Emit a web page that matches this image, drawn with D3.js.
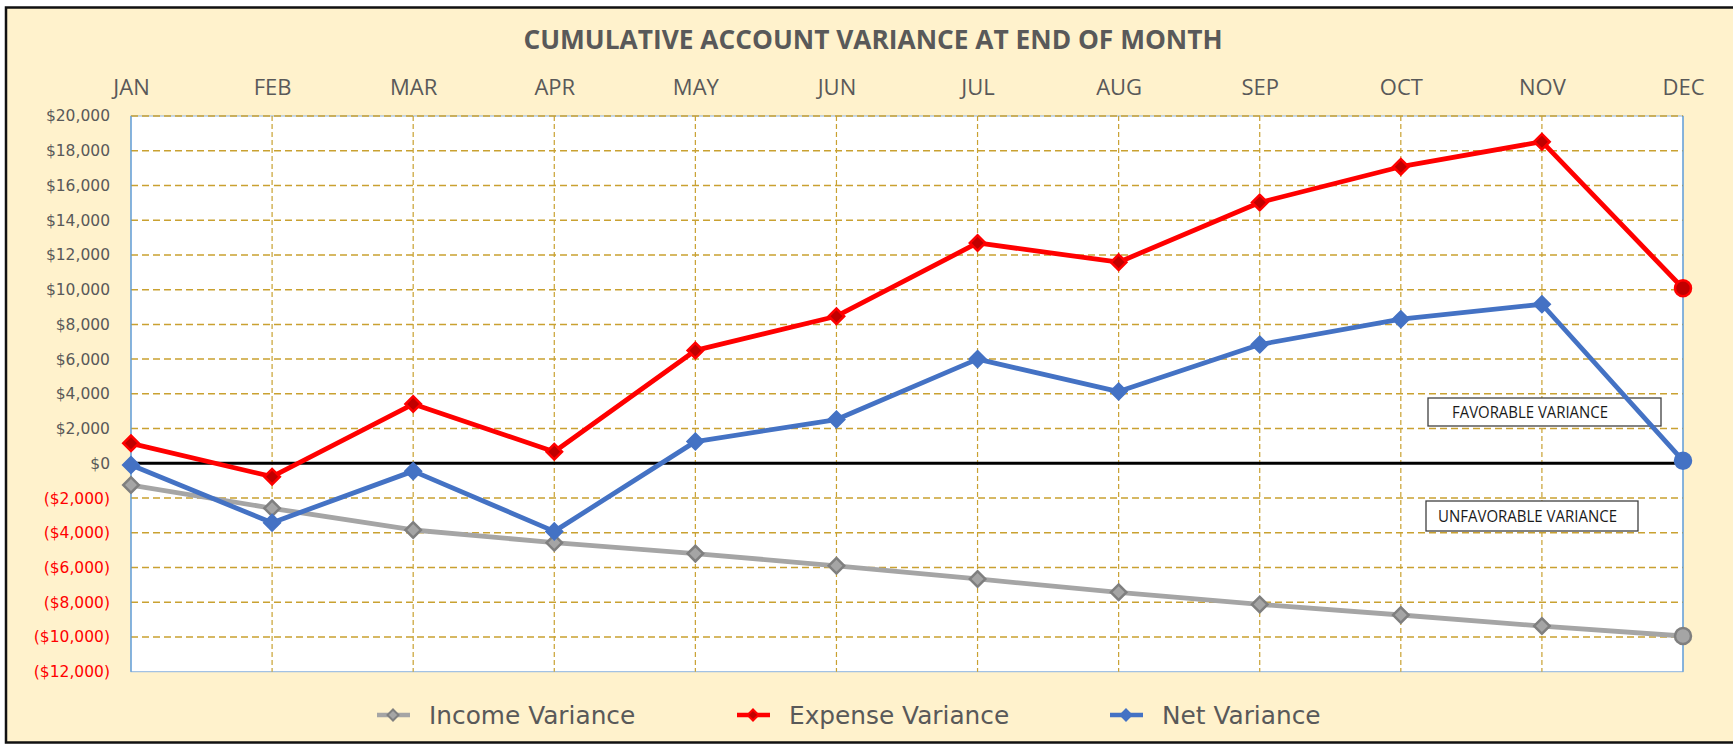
<!DOCTYPE html>
<html>
<head>
<meta charset="utf-8">
<script src="https://cdn.jsdelivr.net/npm/d3@7"></script>
<style>
  body { margin: 0; background: #ffffff; }
  svg { display: block; }
</style>
</head>
<body>
<script>
'use strict';

// data
const months = ["JAN", "FEB", "MAR", "APR", "MAY", "JUN", "JUL", "AUG", "SEP", "OCT", "NOV", "DEC"];
const incomeVariance = [-1250, -2590, -3840, -4570, -5200, -5900, -6660, -7430, -8125, -8735, -9370, -9945];
const expenseVariance = [1150, -770, 3415, 670, 6500, 8470, 12690, 11580, 15020, 17080, 18520, 10080];
const netVariance = [-100, -3420, -450, -3920, 1250, 2520, 6000, 4130, 6840, 8300, 9160, 150];
const yTicks = d3.range(-12000, 20001, 2000);

const width = 1733, height = 744;
const plotLeft = 131, plotRight = 1683, plotTop = 116, plotBottom = 671.7;

let svg = d3.select("body").append("svg")
    .attr("width", width)
    .attr("height", height);

// outer panel
svg.append("rect")
    .attr("x", 6).attr("y", 7.5)
    .attr("width", width).attr("height", 735)
    .attr("fill", "#FFF2CC")
    .attr("stroke", "#111")
    .attr("stroke-width", 2.5);

// title
svg.append("text")
    .attr("x", 873).attr("y", 49)
    .attr("text-anchor", "middle")
    .style("font-family", "Open Sans")
    .style("font-weight", "bold")
    .style("font-size", "26.3px")
    .style("fill", "#595959")
    .text("CUMULATIVE ACCOUNT VARIANCE AT END OF MONTH");

let x = d3.scalePoint().domain(months).range([plotLeft, plotRight]);
let y = d3.scaleLinear().domain([-12000, 20000]).range([plotBottom, plotTop]);

// plot area
svg.append("rect")
    .attr("x", plotLeft).attr("y", plotTop)
    .attr("width", plotRight - plotLeft).attr("height", plotBottom - plotTop)
    .attr("fill", "#ffffff")
    .attr("stroke", "#8DB4E2")
    .attr("stroke-width", 1);

let gridColor = "#C9A131";

// horizontal gridlines
svg.append("g").selectAll("line")
    .data(yTicks.filter(d => d !== 0 && d !== -12000))
    .enter().append("line")
    .attr("x1", plotLeft).attr("x2", plotRight)
    .attr("y1", d => y(d)).attr("y2", d => y(d))
    .attr("stroke", gridColor)
    .attr("stroke-width", 1.5)
    .attr("stroke-dasharray", "7,4");

// vertical gridlines
svg.append("g").selectAll("line")
    .data(months.slice(1, -1))
    .enter().append("line")
    .attr("x1", d => x(d)).attr("x2", d => x(d))
    .attr("y1", plotTop).attr("y2", plotBottom)
    .attr("stroke", gridColor)
    .attr("stroke-width", 1.2)
    .attr("stroke-dasharray", "5,3");

// side borders of the plot in blue
svg.append("g").selectAll("line")
    .data([plotLeft, plotRight])
    .enter().append("line")
    .attr("x1", d => d).attr("x2", d => d)
    .attr("y1", plotTop).attr("y2", plotBottom)
    .attr("stroke", "#5B9BD5")
    .attr("stroke-width", 1.2);

// y axis
let money = d3.format(",");
let yAxis = svg.append("g")
    .attr("transform", "translate(" + plotLeft + ",0)")
    .call(d3.axisLeft(y).tickValues(yTicks).tickSize(0).tickPadding(21)
        .tickFormat(d => d < 0 ? "($" + money(-d) + ")" : "$" + money(d)));
yAxis.select(".domain").remove();
yAxis.selectAll("text")
    .style("font-family", "DejaVu Sans")
    .style("font-size", "15.5px")
    .style("fill", d => d < 0 ? "#FF0000" : "#595959");

// month axis on top
let xAxis = svg.append("g")
    .attr("transform", "translate(0," + plotTop + ")")
    .call(d3.axisTop(x).tickSize(0).tickPadding(21));
xAxis.select(".domain").remove();
xAxis.selectAll("text")
    .style("font-family", "Open Sans")
    .style("font-size", "22px")
    .style("fill", "#595959");

// zero line
svg.append("line")
    .attr("x1", plotLeft).attr("x2", plotRight)
    .attr("y1", y(0)).attr("y2", y(0))
    .attr("stroke", "#000")
    .attr("stroke-width", 3);

// annotation boxes
let notes = [
    { label: "FAVORABLE VARIANCE", x: 1428, y: 398, w: 233, h: 28, tx: 1452, tl: 156 },
    { label: "UNFAVORABLE VARIANCE", x: 1426, y: 501, w: 212, h: 30, tx: 1438, tl: 179 }
];
let note = svg.append("g").selectAll("g")
    .data(notes)
    .enter().append("g");
note.append("rect")
    .attr("x", d => d.x).attr("y", d => d.y)
    .attr("width", d => d.w).attr("height", d => d.h)
    .attr("fill", "#ffffff")
    .attr("stroke", "#404040")
    .attr("stroke-width", 1.3);
note.append("text")
    .attr("x", d => d.tx)
    .attr("y", d => d.y + d.h / 2 + 5.5)
    .attr("textLength", d => d.tl)
    .attr("lengthAdjust", "spacingAndGlyphs")
    .style("font-family", "Open Sans")
    .style("font-size", "15.5px")
    .style("fill", "#1a1a1a")
    .text(d => d.label);

let series = [
    { name: "Income Variance", values: incomeVariance, line: "#A5A5A5", fill: "#A5A5A5", stroke: "#7F7F7F" },
    { name: "Expense Variance", values: expenseVariance, line: "#FF0000", fill: "#C00000", stroke: "#FF0000" },
    { name: "Net Variance", values: netVariance, line: "#4472C4", fill: "#4472C4", stroke: "#4472C4" }
];

let line = d3.line()
    .x((d, i) => x(months[i]))
    .y(d => y(d));

let diamond = d3.symbol().type(d3.symbolSquare).size(120);

series.forEach(function(s) {
    let g = svg.append("g");
    g.append("path")
        .attr("d", line(s.values))
        .attr("fill", "none")
        .attr("stroke", s.line)
        .attr("stroke-width", 4.8)
        .attr("stroke-linejoin", "round");

    let pts = s.values.map((v, i) => ({ v: v, m: months[i], last: i === s.values.length - 1 }));
    g.selectAll("path.mk")
        .data(pts.filter(d => !d.last))
        .enter().append("path")
        .attr("class", "mk")
        .attr("d", diamond)
        .attr("transform", d => "translate(" + x(d.m) + "," + y(d.v) + ") rotate(45)")
        .attr("fill", s.fill)
        .attr("stroke", s.stroke)
        .attr("stroke-width", 2.5);
    g.selectAll("circle")
        .data(pts.filter(d => d.last))
        .enter().append("circle")
        .attr("cx", d => x(d.m))
        .attr("cy", d => y(d.v))
        .attr("r", 8)
        .attr("fill", s.fill)
        .attr("stroke", s.stroke)
        .attr("stroke-width", 2.5);
});

// legend
let legendX = [393, 753, 1126];
let legend = svg.append("g").selectAll("g")
    .data(series)
    .enter().append("g")
    .attr("transform", (d, i) => "translate(" + legendX[i] + ",715)");
legend.append("line")
    .attr("x1", -16).attr("x2", 17)
    .attr("stroke", d => d.line)
    .attr("stroke-width", 4.5);
legend.append("path")
    .attr("d", d3.symbol().type(d3.symbolSquare).size(60))
    .attr("transform", "rotate(45)")
    .attr("fill", d => d.fill)
    .attr("stroke", d => d.stroke)
    .attr("stroke-width", 2);
legend.append("text")
    .attr("x", 36)
    .attr("y", 9)
    .style("font-family", "DejaVu Sans")
    .style("font-size", "24.8px")
    .style("fill", "#595959")
    .text(d => d.name);
</script>
</body>
</html>
